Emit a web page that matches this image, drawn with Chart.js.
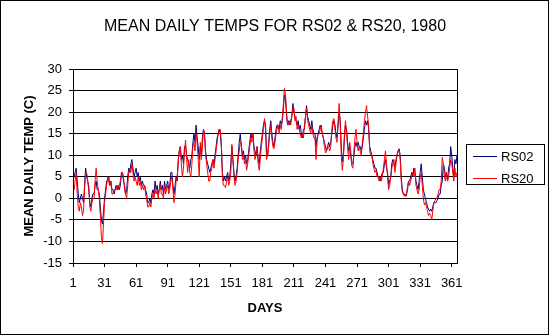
<!DOCTYPE html>
<html>
<head>
<meta charset="utf-8">
<script src="https://cdn.jsdelivr.net/npm/chart.js@4.4.1/dist/chart.umd.min.js"></script>
<style>
  html, body { margin: 0; padding: 0; background: #fff; }
  canvas { display: block; }
</style>
</head>
<body>
<canvas id="tempChart" width="550" height="336"></canvas>
<script>
// day numbers 1..366 (1980 is a leap year)
const days = Array.from({ length: 366 }, (_, i) => i + 1);
const tickDays = [1, 31, 61, 91, 121, 151, 181, 211, 241, 271, 301, 331, 361];
const yTicks = [-15, -10, -5, 0, 5, 10, 15, 20, 25, 30];

// mean daily temperature, deg C
const rs02 = [
  4, 5, 6, 7, 4, 1, -1, 0, 1, 0,
  -1, 3, 7, 5, 4, 2, -1, -2, 0, 1,
  1, 3, 4, 2, 2, 1, -2, -5, -6, -3,
  0, 2, 4, 4, 5, 3, 4, 2, 2, 1,
  2, 3, 2, 3, 2, 3, 6, 6, 4, 3,
  1, 2, 5, 7, 6, 8, 9, 7, 5, 6,
  7, 5, 6, 4, 5, 3, 4, 3, 3, 2,
  1, -1, -1, 0, -1, 1, 2, 1, 4, 2,
  3, 1, 2, 4, 2, 3, 1, 4, 2, 3,
  4, 2, 3, 6, 6, 3, 1, 3, 5, 4,
  9, 11, 12, 9, 10, 8, 12, 12, 10, 9,
  8, 7, 9, 10, 13, 15, 13, 17, 14, 12,
  9, 12, 10, 14, 16, 15, 11, 9, 8, 7,
  6, 7, 8, 9, 8, 10, 12, 14, 15, 16,
  15, 12, 6, 4, 5, 4, 5, 6, 4, 5,
  8, 12, 9, 6, 4, 5, 7, 10, 13, 15,
  12, 10, 11, 9, 10, 8, 9, 11, 13, 15,
  14, 15, 12, 11, 10, 12, 9, 8, 11, 13,
  15, 17, 18, 17, 11, 10, 13, 16, 18, 15,
  13, 12, 14, 16, 17, 17, 16, 18, 17, 18,
  21, 24, 23, 19, 17, 18, 17, 18, 19, 22,
  20, 19, 18, 17, 18, 16, 17, 15, 14, 16,
  16, 19, 21.5, 19, 18, 17, 16, 18, 16, 15,
  15, 12, 14, 15, 16, 17, 16, 15, 14, 13,
  12, 11, 12, 13, 12, 13, 15, 17, 18, 17,
  15, 14, 17, 20, 18, 12, 8.5, 10, 14, 17,
  16, 13, 11, 12, 10, 8, 8, 10, 12, 13,
  12, 13, 12, 12, 11, 12, 14, 16, 18, 17,
  18, 16, 12, 11, 10, 9, 8, 7, 7, 6,
  5, 5, 4, 5, 6, 6, 8, 9, 7, 6,
  3, 4, 5, 8, 9, 8, 7, 9, 10, 11,
  11.5, 10, 5, 2, 1, 1, 0.5, 1, 2, 4,
  4, 5, 6, 5, 7, 6, 4, 3, 2, 4,
  6, 8, 5, 2, 1, 0, -1, -2, -2.5, -3,
  -2.5, -3, -2, -1, -1, -1, -0.5, 0, 1, 1,
  3, 4, 8, 7, 5, 6, 4, 7, 8, 12,
  10, 7, 5, 9, 8, 10
];
const rs20 = [
  3, 2, 4, 6, 1, -2, -3, -1, -2, -4,
  -3, 2, 6, 6, 4, 3, -2, -3, -1, 0,
  0, 4, 7, 4, 2, 0, -4, -9, -10.5, -6,
  -1, 1, 3, 5, 4, 3, 4, 1, 1, 2,
  2, 2, 3, 2, 3, 4, 5, 6, 5, 2,
  1, 0, 3, 6, 7, 6, 8, 6, 4, 5,
  4, 3, 5, 3, 4, 2, 3, 2, 3, 1,
  0, -2, -2, -1, -2, 0, 1, 0, 2, 1,
  2, 0, 2, 3, 1, 1, 0, 3, 1, 2,
  3, 1, 2, 4, 5, 2, -1, 1, 4, 5,
  8, 11, 12, 8, 5, 7, 11, 13.5, 9, 6,
  9, 6, 5, 8, 12, 13, 11, 15, 13, 9,
  5, 13, 9, 12, 16, 15, 10, 8, 6, 4,
  4, 6, 7, 9, 7, 9, 11, 13, 15, 16,
  16, 13, 5, 3, 3, 2.5, 4, 5, 3, 4,
  6, 12.5, 9, 5, 3, 4, 6, 9, 11, 13,
  13, 9, 10, 8, 9, 6.5, 8, 10, 12, 14,
  13, 15, 11, 9, 10, 12, 8, 6.5, 9, 12,
  14, 16, 18.5, 16, 9, 10, 12, 15, 17, 14,
  12, 11.5, 13, 15, 16, 17, 15, 17, 16, 19,
  22, 25.5, 24, 20, 17, 17, 18, 17, 19, 21,
  21, 18, 19, 16, 17, 16, 15, 14, 15, 14,
  17, 19, 21, 18, 17, 16, 15, 17, 15, 14,
  14, 9, 13, 15, 15, 16, 17, 15, 14, 12,
  10.5, 11, 12, 12, 11, 12, 16, 18, 18.5, 16,
  14, 13, 18, 22, 17, 10, 6.5, 9, 15, 18,
  15, 12, 9, 13, 11, 7.5, 7, 11, 14, 16,
  13, 11, 12, 11, 10, 13, 15, 18, 20, 21.5,
  19, 17, 11, 10, 10, 8, 7, 6, 6.5, 5,
  5, 4, 5, 4, 5, 7, 9, 11, 8, 5,
  2, 3, 5, 7, 8, 9, 6, 8, 10, 11,
  11, 9, 4, 1.5, 1, 0.5, 1, 0.5, 3, 4,
  3, 4, 5, 6, 5, 7, 3, 2, 1, 2,
  5, 6, 3, 0, -1.5, -1, -2, -3, -4, -3.5,
  -4, -5, -3, -1, -0.5, 0, 0, 1, 2, 2,
  4, 9.5, 8, 5, 4, 6, 4, 5, 7, 9,
  8, 6, 4, 7, 5, 6
];

Chart.defaults.font.family = "'Liberation Sans', Arial, sans-serif";
Chart.defaults.color = '#000';

// plot frame, outer border and the boxed legend on the right
const framePlugin = {
  id: 'frame',
  afterDraw(chart) {
    const ctx = chart.ctx;
    const a = chart.chartArea;
    ctx.save();
    ctx.strokeStyle = '#000';
    ctx.lineWidth = 1;
    ctx.strokeRect(Math.round(a.left) + 0.5, Math.round(a.top) + 0.5,
      Math.round(a.right - a.left), Math.round(a.bottom - a.top));
    ctx.strokeRect(0.5, 0.5, 548, 334);

    // legend
    ctx.strokeRect(466.5, 144.5, 78, 40);
    ctx.font = "13px 'Liberation Sans', Arial, sans-serif";
    ctx.textBaseline = 'middle';
    ctx.fillStyle = '#000';
    const ys = [156, 178];
    chart.data.datasets.forEach((ds, i) => {
      ctx.strokeStyle = ds.borderColor;
      ctx.beginPath();
      ctx.moveTo(473, ys[i] + 0.5);
      ctx.lineTo(497, ys[i] + 0.5);
      ctx.stroke();
      ctx.fillText(ds.label, 501, ys[i] + 1);
    });
    ctx.restore();
  }
};

const ctx = document.getElementById('tempChart').getContext('2d');
new Chart(ctx, {
  type: 'line',
  data: {
    labels: days,
    datasets: [{
      label: 'RS02',
      data: rs02,
      borderColor: '#000080',
      borderWidth: 1,
      pointRadius: 0,
      tension: 0,
      order: 1
    }, {
      label: 'RS20',
      data: rs20,
      borderColor: '#ff0000',
      borderWidth: 1,
      pointRadius: 0,
      tension: 0,
      order: 0
    }]
  },
  options: {
    responsive: false,
    animation: false,
    layout: {
      padding: 0
    },
    plugins: {
      legend: { display: false },
      tooltip: { enabled: false },
      title: {
        display: true,
        text: 'MEAN DAILY TEMPS FOR RS02 & RS20, 1980',
        font: { size: 16, weight: 'normal' },
        padding: { top: 17, bottom: 32.8 }
      }
    },
    scales: {
      x: {
        type: 'category',
        offset: false,
        afterFit: (scale) => { scale.height = 73; },
        border: { color: '#000' },
        grid: {
          drawOnChartArea: false,
          tickLength: 4,
          color: (c) => tickDays.includes(days[c.index]) ? '#000' : 'rgba(0,0,0,0)'
        },
        ticks: {
          autoSkip: false,
          maxRotation: 0,
          padding: 9,
          font: { size: 13 },
          callback: function (val) {
            const d = this.getLabelForValue(val);
            return tickDays.includes(d) ? String(d) : '';
          }
        },
        title: {
          display: true,
          text: 'DAYS',
          font: { size: 13, weight: 'bold' },
          padding: { top: 0, bottom: 20 }
        }
      },
      y: {
        min: yTicks[0],
        max: yTicks[yTicks.length - 1],
        afterFit: (scale) => { scale.width = 73; },
        border: { color: '#000' },
        grid: { color: '#000', tickLength: 4 },
        ticks: {
          stepSize: 5,
          padding: 7,
          font: { size: 13 }
        },
        title: {
          display: true,
          text: 'MEAN DAILY TEMP (C)',
          font: { size: 13, weight: 'bold' },
          padding: { top: 22, bottom: 0 }
        }
      },
      // empty right-hand strip that leaves room for the legend box
      legendSpace: {
        position: 'right',
        afterFit: (scale) => { scale.width = 93; },
        grid: { display: false },
        border: { display: false },
        ticks: { display: false }
      }
    }
  },
  plugins: [framePlugin]
});
</script>
</body>
</html>
